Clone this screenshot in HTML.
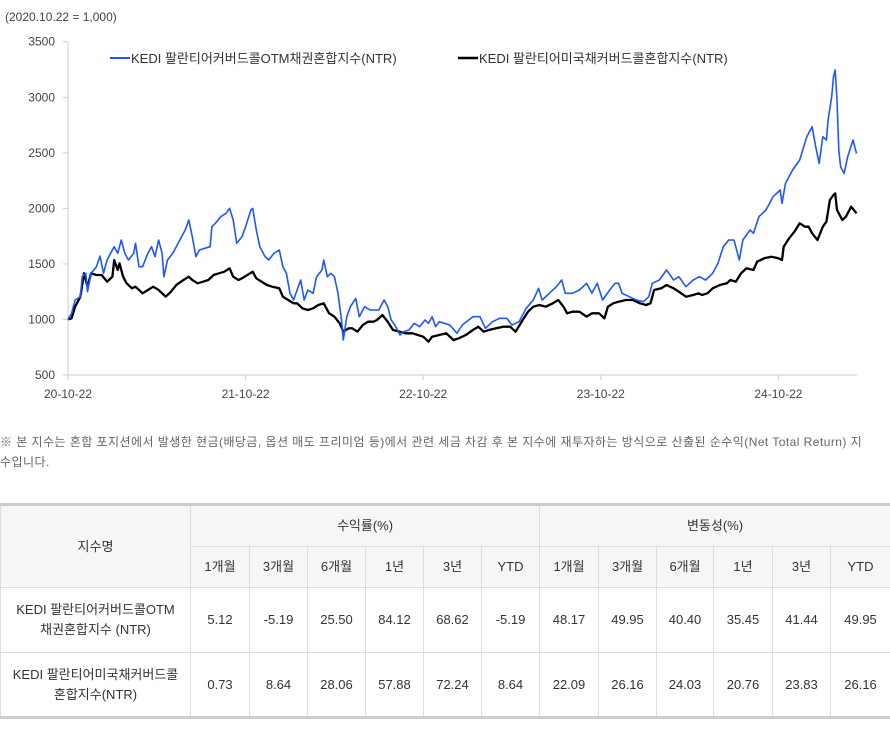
<!DOCTYPE html>
<html><head><meta charset="utf-8">
<style>
body{margin:0;width:890px;height:729px;background:#fff;font-family:"Liberation Sans","Noto Sans CJK KR",sans-serif;color:#333;position:relative;overflow:hidden}
#note{position:absolute;left:0;top:432px;width:890px;font-size:12px;line-height:20px;color:#666;letter-spacing:0.45px;white-space:nowrap}
table{position:absolute;left:0;top:503px;width:890px;border-collapse:collapse;table-layout:fixed;font-size:13px;color:#333}
td,th{border:1px solid #ddd;text-align:center;font-weight:normal;padding:0;line-height:20px}
th{background:#f6f6f6}
table{border-top:3px solid #ccc;border-bottom:3px solid #ccc}
</style></head><body>
<svg width="890" height="420" style="position:absolute;left:0;top:0" id="chart"></svg>
<div id="note">※ 본 지수는 혼합 포지션에서 발생한 현금(배당금, 옵션 매도 프리미엄 등)에서 관련 세금 차감 후 본 지수에 재투자하는 방식으로 산출된 순수익(Net Total Return) 지<br>수입니다.</div>
<table>
<colgroup><col style="width:190px"><col style="width:59px"><col style="width:58px"><col style="width:58px"><col style="width:58px"><col style="width:58px"><col style="width:58px"><col style="width:59px"><col style="width:58px"><col style="width:57px"><col style="width:59px"><col style="width:58px"><col style="width:60px"></colgroup>
<tr style="height:42px"><th rowspan="2">지수명</th><th colspan="6">수익률(%)</th><th colspan="6">변동성(%)</th></tr>
<tr style="height:41px"><th>1개월</th><th>3개월</th><th>6개월</th><th>1년</th><th>3년</th><th>YTD</th><th>1개월</th><th>3개월</th><th>6개월</th><th>1년</th><th>3년</th><th>YTD</th></tr>
<tr style="height:65px"><td>KEDI 팔란티어커버드콜OTM<br>채권혼합지수 (NTR)</td><td>5.12</td><td>-5.19</td><td>25.50</td><td>84.12</td><td>68.62</td><td>-5.19</td><td>48.17</td><td>49.95</td><td>40.40</td><td>35.45</td><td>41.44</td><td>49.95</td></tr>
<tr style="height:65px"><td>KEDI 팔란티어미국채커버드콜<br>혼합지수(NTR)</td><td>0.73</td><td>8.64</td><td>28.06</td><td>57.88</td><td>72.24</td><td>8.64</td><td>22.09</td><td>26.16</td><td>24.03</td><td>20.76</td><td>23.83</td><td>26.16</td></tr>
</table>
<script>
const yTicks=[500,1000,1500,2000,2500,3000,3500];
const xTickLabels=["20-10-22","21-10-22","22-10-22","23-10-22","24-10-22"];
const blueT=[0,.02,.04,.07,.08,.10,.11,.13,.16,.18,.20,.22,.24,.26,.28,.30,.32,.34,.37,.38,.40,.42,.45,.47,.49,.51,.53,.54,.56,.59,.63,.66,.68,.70,.72,.74,.77,.80,.81,.83,.86,.89,.91,.93,.95,.98,1.00,1.03,1.04,1.06,1.08,1.11,1.13,1.16,1.19,1.21,1.23,1.25,1.27,1.29,1.31,1.33,1.35,1.38,1.40,1.43,1.44,1.46,1.48,1.50,1.52,1.54,1.55,1.57,1.59,1.62,1.64,1.67,1.70,1.73,1.75,1.78,1.80,1.82,1.84,1.87,1.89,1.92,1.95,1.98,2.01,2.03,2.05,2.07,2.09,2.15,2.19,2.22,2.28,2.32,2.35,2.39,2.43,2.47,2.50,2.54,2.58,2.62,2.65,2.67,2.71,2.75,2.78,2.80,2.84,2.88,2.92,2.95,2.98,3.01,3.05,3.08,3.10,3.12,3.16,3.20,3.24,3.27,3.29,3.33,3.37,3.41,3.44,3.48,3.52,3.555,3.59,3.63,3.66,3.69,3.72,3.75,3.78,3.80,3.84,3.86,3.89,3.93,3.97,4.01,4.02,4.04,4.08,4.12,4.16,4.17,4.19,4.21,4.23,4.25,4.27,4.28,4.30,4.31,4.32,4.33,4.34,4.35,4.37,4.39,4.42,4.44];
const blueV=[1000,1055,1175,1205,1385,1415,1250,1415,1475,1570,1415,1535,1595,1655,1595,1715,1595,1535,1595,1685,1475,1475,1595,1655,1565,1715,1595,1385,1535,1595,1715,1805,1895,1745,1565,1625,1640,1655,1835,1865,1925,1955,2000,1895,1685,1745,1835,1985,2000,1805,1655,1565,1535,1595,1625,1475,1415,1235,1175,1265,1355,1175,1265,1235,1385,1445,1535,1385,1415,1385,1235,995,815,1025,1115,1190,1025,1115,1085,1085,1085,1175,1115,995,950,860,890,905,965,935,995,965,1025,935,980,950,875,950,1025,1025,920,980,1010,1010,950,980,1100,1175,1280,1175,1235,1295,1355,1235,1235,1265,1325,1235,1325,1175,1265,1325,1325,1235,1205,1175,1160,1205,1325,1355,1445,1355,1385,1295,1355,1385,1355,1415,1505,1655,1715,1715,1535,1715,1805,1775,1925,1985,2105,2165,2045,2225,2345,2435,2645,2675,2735,2555,2405,2645,2615,2795,3005,3185,3245,2975,2525,2375,2315,2465,2615,2495];
const blackT=[0,.02,.04,.07,.09,.11,.13,.16,.19,.22,.25,.26,.28,.29,.31,.33,.36,.38,.42,.45,.48,.51,.53,.55,.58,.61,.65,.68,.70,.73,.76,.79,.82,.85,.88,.91,.93,.96,.98,1.01,1.04,1.06,1.09,1.12,1.15,1.19,1.21,1.24,1.27,1.29,1.32,1.35,1.38,1.41,1.44,1.45,1.47,1.50,1.53,1.55,1.58,1.60,1.63,1.66,1.69,1.72,1.74,1.77,1.80,1.83,1.87,1.90,1.94,1.97,2.00,2.03,2.05,2.09,2.13,2.17,2.20,2.24,2.28,2.31,2.34,2.37,2.41,2.45,2.49,2.52,2.56,2.59,2.62,2.655,2.69,2.73,2.76,2.79,2.81,2.84,2.88,2.92,2.95,2.99,3.02,3.04,3.07,3.10,3.14,3.18,3.22,3.255,3.28,3.30,3.34,3.37,3.41,3.44,3.48,3.52,3.55,3.57,3.60,3.63,3.67,3.71,3.73,3.76,3.79,3.82,3.86,3.88,3.92,3.96,4.00,4.02,4.03,4.06,4.09,4.12,4.15,4.17,4.19,4.22,4.25,4.27,4.29,4.31,4.32,4.33,4.36,4.38,4.41,4.44];
const blackV=[1000,1010,1115,1205,1415,1295,1415,1400,1400,1340,1385,1535,1445,1505,1385,1325,1280,1295,1235,1265,1295,1265,1235,1205,1250,1310,1355,1385,1355,1325,1340,1355,1400,1415,1430,1460,1385,1355,1370,1400,1430,1370,1340,1310,1295,1280,1205,1175,1145,1145,1100,1085,1100,1130,1145,1115,1055,1025,965,890,920,920,890,950,980,980,995,1040,980,905,890,875,875,860,845,800,845,860,875,815,830,860,905,935,890,905,920,935,935,890,995,1070,1115,1130,1115,1145,1175,1115,1055,1070,1070,1025,1055,1055,1010,1115,1145,1160,1175,1175,1145,1130,1145,1265,1280,1310,1280,1250,1205,1220,1235,1220,1235,1280,1310,1325,1355,1340,1415,1460,1445,1520,1550,1565,1550,1535,1655,1730,1790,1865,1835,1835,1775,1715,1835,1880,2075,2120,2135,1985,1895,1925,2015,1955];
const NS="http://www.w3.org/2000/svg";
const svg=document.getElementById('chart');
const X0=68,XW=177.6,Y500=375,YTOP=41.7;
const xs=t=>X0+t*XW;
const ys=v=>Y500-(v-500)/3000*(Y500-YTOP);
function mk(tag,attrs){const e=document.createElementNS(NS,tag);for(const k in attrs)e.setAttribute(k,attrs[k]);svg.appendChild(e);return e;}
let t0=mk('text',{x:5,y:21,'font-size':12,fill:'#444'});t0.textContent='(2020.10.22 = 1,000)';


let ya=mk('line',{x1:X0,y1:YTOP,x2:X0,y2:Y500,stroke:'#ccc'});


let xa=mk('line',{x1:X0,y1:Y500,x2:857,y2:Y500,stroke:'#ccc'});


yTicks.forEach(v=>{const y=ys(v);mk('line',{x1:X0-5,y1:y,x2:X0,y2:y,stroke:'#ccc'});
const tx=mk('text',{x:55,y:y+4,'text-anchor':'end','font-size':12,fill:'#444'});tx.textContent=v;

});
xTickLabels.forEach((l,i)=>{const x=xs(i);mk('line',{x1:x,y1:Y500,x2:x,y2:Y500+5,stroke:'#ccc'});
const tx=mk('text',{x:x,y:398,'text-anchor':'middle','font-size':12,fill:'#444'});tx.textContent=l;

});
function line(T,V,c,w,name){const p=mk('polyline',{points:T.map((t,i)=>xs(t).toFixed(1)+','+ys(V[i]).toFixed(1)).join(' '),fill:'none',stroke:c,'stroke-width':w,'stroke-linejoin':'round'});

}
line(blackT,blackV,'#000',2.3,'series-us-treasury-line');
line(blueT,blueV,'#1f56ff',1.6,'series-otm-line');
function leg(x,c,w,txt,name){mk('line',{x1:x,y1:58,x2:x+20,y2:58,stroke:c,'stroke-width':w});
const tx=mk('text',{x:x+21,y:63,'font-size':13,fill:'#333'});tx.textContent=txt;

}
leg(110,'#1f56ff',2,'KEDI 팔란티어커버드콜OTM채권혼합지수(NTR)','legend-otm');
leg(458,'#000',2.5,'KEDI 팔란티어미국채커버드콜혼합지수(NTR)','legend-us-treasury');
</script>
</body></html>
